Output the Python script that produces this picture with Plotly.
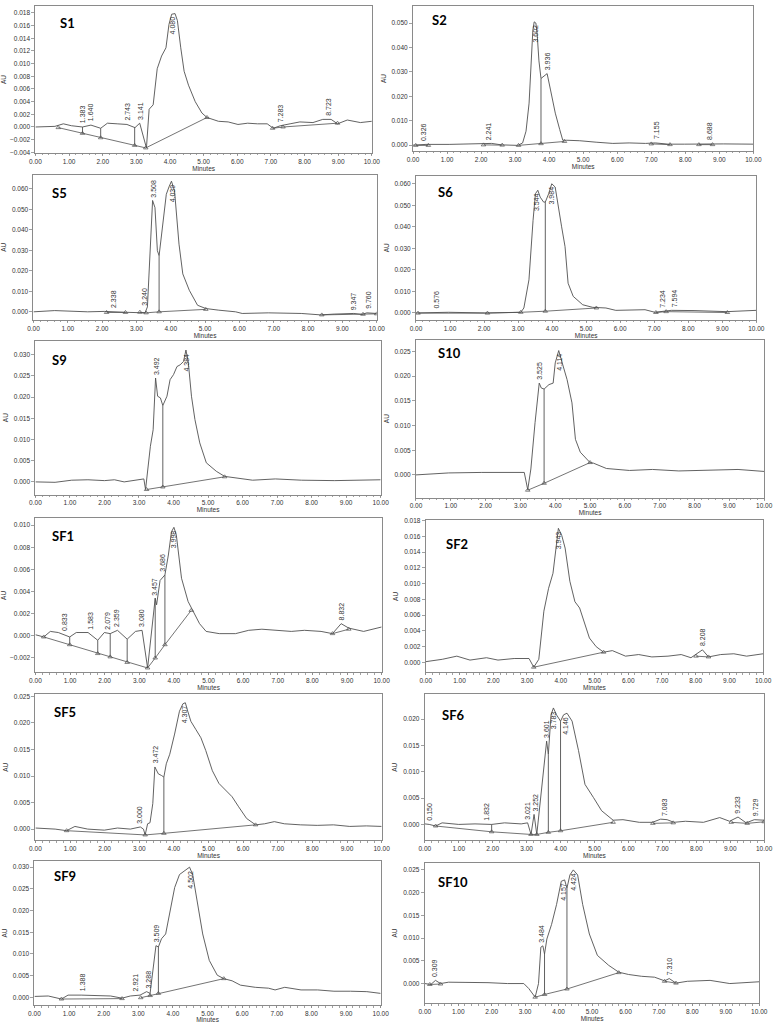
import numpy as np
import plotly.graph_objects as go

W, H = 781, 1023

PANEL_NAMES = ["S1", "S2", "S5", "S6", "S9", "S10", "SF1", "SF2", "SF5", "SF6", "SF9", "SF10"]
Y_RANGES = [[-0.0041, 0.0191], [-0.0024, 0.0570], [-0.0039, 0.0668], [-0.0032, 0.0637],
            [-0.0030, 0.0333], [-0.0046, 0.0274], [-0.0033, 0.0106], [-0.00126, 0.0180],
            [-0.0021, 0.0254], [-0.0030, 0.0247], [-0.0018, 0.0314], [-0.0043, 0.0265]]
Y_DTICK = [0.002, 0.010, 0.010, 0.010, 0.005, 0.005, 0.002, 0.002, 0.005, 0.005, 0.005, 0.005]
X_TICKS = [0, 1, 2, 3, 4, 5, 6, 7, 8, 9, 10]

# ---------------- data (minutes, AU) ----------------
S1_t = [0, 0.58, 0.83, 1.07, 1.40, 1.65, 1.94, 2.14, 2.43, 2.72, 2.96, 3.10, 3.30, 3.38, 3.50, 3.62, 3.75, 3.88, 3.97, 4.05, 4.15, 4.22, 4.32, 4.42, 4.55, 4.75, 4.95, 5.10, 5.44, 5.73, 6.02, 6.31, 6.60, 6.89, 7.07, 7.28, 7.57, 7.86, 8.25, 8.54, 8.79, 8.98, 9.27, 9.66, 10.0]
S1_au = [0.0000, 0.0001, 0.0005, 0.0002, 0.0000, 0.0003, -0.0002, 0.0006, 0.0005, 0.0004, -0.0001, 0.0006, -0.0033, 0.0028, 0.0035, 0.0092, 0.0112, 0.0125, 0.0162, 0.0178, 0.0179, 0.0168, 0.0125, 0.0088, 0.0066, 0.0040, 0.0022, 0.0015, 0.0009, 0.0008, 0.0004, 0.0006, 0.0005, 0.0005, -0.0002, 0.0002, 0.0005, 0.0008, 0.0007, 0.0012, 0.0012, 0.0005, 0.0011, 0.0007, 0.0009]
S1_base_t = [0.68, 1.40, 1.94, 2.95, 3.28, 5.10, None, 7.05, 7.36, 8.98]
S1_base_au = [-0.0001, -0.0010, -0.0017, -0.0029, -0.0033, 0.0015, None, -0.0002, 0.0000, 0.0006]
S1_drop_t = [1.40, 1.94, 2.95]
S1_peaks = ["1.383", "1.640", "2.743", "3.141", "4.080", "7.283", "8.723"]

S2_t = [0, 0.38, 1.06, 1.63, 2.02, 2.31, 2.60, 3.08, 3.22, 3.32, 3.41, 3.47, 3.52, 3.56, 3.61, 3.65, 3.70, 3.76, 3.85, 3.94, 4.04, 4.18, 4.31, 4.40, 4.52, 4.90, 5.38, 5.87, 6.35, 6.83, 7.12, 7.50, 7.98, 8.56, 8.70, 9.13, 10.0]
S2_au = [0.0000, 0.0003, 0.0003, 0.0005, 0.0005, 0.0007, 0.0001, -0.0001, 0.0009, 0.0057, 0.0172, 0.0330, 0.0470, 0.0505, 0.0500, 0.0450, 0.0345, 0.0273, 0.0282, 0.0293, 0.0226, 0.0131, 0.0064, 0.0020, 0.0020, 0.0018, 0.0012, 0.0007, 0.0009, 0.0007, 0.0009, 0.0004, 0.0004, 0.0005, 0.0006, 0.0005, 0.0004]
S2_base_t = [0.08, 0.45, None, 2.07, 2.62, None, 3.10, 3.76, 4.45, None, 7.00, 7.55, None, 8.40, 8.80]
S2_base_au = [-0.0001, -0.0001, None, 0.0001, 0.0000, None, -0.0001, 0.0006, 0.0015, None, 0.0005, 0.0002, None, 0.0002, 0.0002]
S2_drop_t = [3.76]
S2_peaks = ["0.326", "2.241", "3.602", "3.936", "7.155", "8.688"]

S5_t = [0, 0.62, 1.58, 2.06, 2.63, 3.11, 3.25, 3.32, 3.40, 3.47, 3.54, 3.61, 3.66, 3.76, 3.87, 3.95, 4.02, 4.11, 4.24, 4.35, 4.54, 4.78, 5.02, 5.40, 5.89, 6.08, 6.84, 7.80, 8.37, 8.76, 9.33, 9.57, 9.71, 10.0]
S5_au = [0.0000, 0.0006, 0.0000, 0.0002, -0.0002, -0.0002, -0.0005, 0.0024, 0.0280, 0.0543, 0.0508, 0.0298, 0.0274, 0.0410, 0.0573, 0.0610, 0.0637, 0.0589, 0.0330, 0.0185, 0.0105, 0.0032, 0.0016, 0.0008, 0.0000, -0.0008, -0.0005, -0.0008, -0.0015, -0.0011, -0.0008, -0.0013, -0.0005, -0.0008]
S5_base_t = [2.13, 2.68, None, 3.10, 3.28, 3.66, 5.02, None, 8.40, 9.60, 10.0]
S5_base_au = [-0.0003, -0.0003, None, -0.0002, -0.0005, 0.0000, 0.0012, None, -0.0015, -0.0012, -0.0010]
S5_drop_t = [3.66]
S5_peaks = ["2.338", "3.240", "3.508", "4.039", "9.347", "9.760"]

S6_t = [0, 0.96, 2.02, 2.88, 3.08, 3.17, 3.32, 3.44, 3.51, 3.58, 3.65, 3.75, 3.80, 3.90, 3.99, 4.09, 4.18, 4.28, 4.38, 4.47, 4.62, 4.90, 5.19, 5.58, 5.87, 6.35, 6.73, 7.02, 7.26, 7.50, 8.17, 9.13, 10.0]
S6_au = [0.0000, 0.0003, 0.0000, 0.0003, 0.0003, 0.0023, 0.0154, 0.0430, 0.0554, 0.0570, 0.0538, 0.0515, 0.0515, 0.0554, 0.0600, 0.0585, 0.0490, 0.0400, 0.0308, 0.0138, 0.0077, 0.0038, 0.0026, 0.0023, 0.0012, 0.0012, 0.0015, 0.0003, 0.0008, 0.0012, 0.0011, 0.0006, 0.0012]
S6_base_t = [0.06, 2.10, 3.08, 3.80, 5.30, None, 7.05, 7.35, 9.15]
S6_base_au = [-0.0001, -0.0001, 0.0003, 0.0008, 0.0023, None, 0.0002, 0.0006, 0.0002]
S6_drop_t = [3.80]
S6_peaks = ["0.576", "3.544", "3.984", "7.234", "7.594"]

S9_t = [0, 0.57, 1.05, 1.52, 2.00, 2.29, 2.57, 2.95, 3.14, 3.19, 3.33, 3.41, 3.48, 3.54, 3.62, 3.69, 3.81, 3.90, 4.00, 4.10, 4.19, 4.29, 4.36, 4.43, 4.52, 4.62, 4.76, 4.95, 5.24, 5.48, 5.81, 6.29, 6.95, 7.71, 8.67, 10.0]
S9_au = [0.0000, -0.0001, 0.0004, 0.0005, 0.0003, 0.0005, 0.0000, 0.0005, 0.0007, -0.0018, 0.0084, 0.0123, 0.0245, 0.0202, 0.0198, 0.0180, 0.0202, 0.0241, 0.0253, 0.0272, 0.0276, 0.0284, 0.0311, 0.0280, 0.0202, 0.0147, 0.0092, 0.0045, 0.0025, 0.0013, 0.0009, 0.0004, 0.0007, 0.0004, 0.0003, 0.0005]
S9_base_t = [3.22, 3.69, 5.48]
S9_base_au = [-0.0018, -0.0012, 0.0012]
S9_drop_t = [3.69]
S9_peaks = ["3.492", "4.384"]

S10_t = [0, 0.94, 1.89, 2.83, 3.11, 3.21, 3.30, 3.42, 3.54, 3.60, 3.68, 3.82, 3.94, 4.00, 4.10, 4.20, 4.34, 4.48, 4.58, 4.72, 5.00, 5.09, 5.47, 6.13, 6.79, 7.55, 8.49, 9.25, 10.0]
S10_au = [0.0000, 0.0004, 0.0005, 0.0005, 0.0005, -0.0030, 0.0012, 0.0106, 0.0186, 0.0176, 0.0174, 0.0183, 0.0186, 0.0227, 0.0252, 0.0227, 0.0193, 0.0146, 0.0072, 0.0046, 0.0025, 0.0024, 0.0013, 0.0009, 0.0011, 0.0008, 0.0009, 0.0011, 0.0007]
S10_base_t = [3.21, 3.68, 5.00]
S10_base_au = [-0.0031, -0.0017, 0.0025]
S10_drop_t = [3.68]
S10_peaks = ["3.525", "4.114"]

SF1_t = [0, 0.24, 0.43, 0.66, 0.99, 1.18, 1.52, 1.80, 1.99, 2.16, 2.37, 2.65, 2.89, 3.08, 3.24, 3.36, 3.46, 3.50, 3.60, 3.74, 3.84, 3.93, 4.00, 4.07, 4.22, 4.41, 4.55, 4.74, 4.93, 5.31, 5.78, 6.16, 6.54, 6.92, 7.39, 7.77, 8.25, 8.58, 8.83, 9.05, 9.48, 10.0]
SF1_au = [0.0001, -0.0001, 0.0004, 0.0003, -0.0001, 0.0003, 0.0003, -0.0004, 0.0003, 0.0002, 0.0005, -0.0003, 0.0004, 0.0005, -0.0029, 0.0004, 0.0034, 0.0028, 0.0050, 0.0055, 0.0073, 0.0094, 0.0098, 0.0091, 0.0052, 0.0031, 0.0022, 0.0011, 0.0004, 0.0002, 0.0002, 0.0005, 0.0006, 0.0005, 0.0004, 0.0005, 0.0004, 0.0002, 0.0011, 0.0007, 0.0004, 0.0008]
SF1_base_t = [0.24, 0.99, 1.80, 2.16, 2.65, 3.24, 3.46, 3.74, 4.50, None, 8.58, 9.05]
SF1_base_au = [-0.0001, -0.0008, -0.0016, -0.0019, -0.0024, -0.0029, -0.0020, -0.0008, 0.0023, None, 0.0002, 0.0006]
SF1_drop_t = [0.99, 1.80, 2.16, 2.65, 3.46, 3.74]
SF1_peaks = ["0.833", "1.583", "2.079", "2.359", "3.080", "3.457", "3.686", "3.998", "8.832"]

SF2_t = [0, 0.49, 0.92, 1.31, 1.80, 2.14, 2.62, 3.06, 3.20, 3.35, 3.50, 3.64, 3.77, 3.86, 3.93, 4.03, 4.13, 4.27, 4.42, 4.56, 4.71, 4.85, 5.05, 5.27, 5.53, 5.73, 5.92, 6.31, 6.70, 7.18, 7.57, 7.86, 8.01, 8.20, 8.38, 8.74, 9.13, 9.51, 10.0]
SF2_au = [0.0001, 0.0004, 0.0008, 0.0003, 0.0006, 0.0003, 0.0005, 0.0005, -0.0006, 0.0004, 0.0065, 0.0094, 0.0113, 0.0149, 0.0170, 0.0161, 0.0145, 0.0103, 0.0077, 0.0069, 0.0048, 0.0031, 0.0020, 0.0013, 0.0015, 0.0011, 0.0008, 0.0010, 0.0007, 0.0008, 0.0010, 0.0006, 0.0010, 0.0016, 0.0007, 0.0010, 0.0011, 0.0008, 0.0011]
SF2_base_t = [3.20, 5.27, None, 8.01, 8.38]
SF2_base_au = [-0.0006, 0.0013, None, 0.0008, 0.0007]
SF2_drop_t = []
SF2_peaks = ["3.943", "8.208"]

SF5_t = [0, 0.57, 0.90, 1.14, 1.51, 1.99, 2.37, 2.74, 3.03, 3.12, 3.17, 3.24, 3.31, 3.39, 3.45, 3.55, 3.64, 3.71, 3.78, 3.88, 4.02, 4.16, 4.26, 4.33, 4.40, 4.49, 4.63, 4.78, 4.92, 5.11, 5.30, 5.49, 5.68, 5.87, 6.10, 6.36, 6.62, 6.90, 7.19, 7.66, 8.14, 8.61, 9.08, 9.56, 10.0]
SF5_au = [0.0002, 0.0000, -0.0003, 0.0005, 0.0000, -0.0002, 0.0002, 0.0000, 0.0004, 0.0000, -0.0011, 0.0010, 0.0012, 0.0048, 0.0117, 0.0104, 0.0101, 0.0098, 0.0123, 0.0141, 0.0179, 0.0222, 0.0236, 0.0238, 0.0222, 0.0203, 0.0188, 0.0172, 0.0148, 0.0110, 0.0086, 0.0073, 0.0061, 0.0042, 0.0020, 0.0008, 0.0010, 0.0014, 0.0010, 0.0008, 0.0007, 0.0008, 0.0005, 0.0006, 0.0005]
SF5_base_t = [0.90, 3.17, 3.71, 6.36]
SF5_base_au = [-0.0003, -0.0011, -0.0008, 0.0008]
SF5_drop_t = [3.71]
SF5_peaks = ["3.000", "3.472", "4.307"]

SF6_t = [0, 0.13, 0.32, 0.51, 1.00, 1.48, 1.97, 2.35, 2.84, 3.03, 3.13, 3.22, 3.30, 3.40, 3.51, 3.59, 3.64, 3.72, 3.79, 3.88, 4.00, 4.09, 4.19, 4.34, 4.53, 4.72, 4.97, 5.21, 5.55, 5.84, 6.32, 6.71, 6.95, 7.14, 7.34, 7.68, 8.21, 8.69, 8.98, 9.23, 9.47, 9.71, 10.0]
SF6_au = [0.0001, 0.0000, -0.0003, 0.0003, 0.0000, 0.0001, 0.0000, 0.0003, 0.0001, 0.0003, -0.0019, 0.0019, -0.0019, 0.0045, 0.0114, 0.0158, 0.0133, 0.0208, 0.0221, 0.0208, 0.0196, 0.0208, 0.0211, 0.0196, 0.0140, 0.0076, 0.0051, 0.0026, 0.0008, 0.0009, 0.0004, 0.0004, 0.0010, 0.0009, 0.0004, 0.0006, 0.0004, 0.0013, 0.0006, 0.0014, 0.0003, 0.0009, 0.0008]
SF6_base_t = [0.32, 1.97, 3.13, 3.30, 3.64, 4.00, 5.55, None, 6.72, 7.32, None, 9.03, 9.50, 10.0]
SF6_base_au = [-0.0003, -0.0014, -0.0019, -0.0019, -0.0015, -0.0012, 0.0004, None, 0.0002, 0.0003, None, 0.0004, 0.0002, 0.0005]
SF6_drop_t = [1.97, 3.64, 4.00]
SF6_peaks = ["0.150", "1.832", "3.021", "3.252", "3.601", "3.783", "4.146", "7.083", "9.233", "9.729"]

SF9_t = [0, 0.40, 0.78, 0.97, 1.35, 1.82, 2.20, 2.53, 2.77, 3.05, 3.24, 3.34, 3.43, 3.51, 3.58, 3.67, 3.79, 3.91, 4.05, 4.19, 4.34, 4.48, 4.57, 4.72, 4.86, 5.05, 5.28, 5.47, 5.71, 5.95, 6.38, 6.76, 6.95, 7.23, 7.70, 8.18, 8.65, 9.13, 9.60, 10.0]
SF9_au = [0.0002, 0.0003, -0.0004, 0.0005, 0.0005, 0.0003, 0.0003, -0.0002, 0.0003, 0.0005, 0.0013, 0.0009, 0.0066, 0.0119, 0.0116, 0.0135, 0.0146, 0.0192, 0.0253, 0.0283, 0.0291, 0.0300, 0.0283, 0.0215, 0.0146, 0.0085, 0.0051, 0.0043, 0.0038, 0.0028, 0.0023, 0.0021, 0.0017, 0.0023, 0.0017, 0.0017, 0.0014, 0.0014, 0.0013, 0.0009]
SF9_base_t = [0.78, 2.53, None, 3.07, 3.34, 3.58, 5.47]
SF9_base_au = [-0.0004, -0.0003, None, -0.0001, 0.0004, 0.0009, 0.0043]
SF9_drop_t = [3.34, 3.58]
SF9_peaks = ["1.388", "2.921", "3.288", "3.509", "4.502"]

SF10_t = [0, 0.18, 0.32, 0.47, 0.71, 1.40, 1.89, 2.47, 2.96, 3.11, 3.30, 3.40, 3.47, 3.53, 3.58, 3.65, 3.79, 3.94, 4.08, 4.18, 4.25, 4.34, 4.44, 4.57, 4.72, 4.92, 5.16, 5.50, 5.80, 6.09, 6.48, 6.87, 7.17, 7.31, 7.51, 7.85, 8.53, 9.12, 10.0]
SF10_au = [0.0000, -0.0002, 0.0007, 0.0000, 0.0003, 0.0003, 0.0002, 0.0000, 0.0000, -0.0011, -0.0030, 0.0000, 0.0080, 0.0083, 0.0065, 0.0098, 0.0130, 0.0174, 0.0225, 0.0228, 0.0210, 0.0239, 0.0250, 0.0239, 0.0174, 0.0109, 0.0062, 0.0040, 0.0025, 0.0020, 0.0016, 0.0014, 0.0006, 0.0011, 0.0001, 0.0005, 0.0007, 0.0000, 0.0004]
SF10_base_t = [0.15, 0.47, None, 3.30, 3.58, 4.25, 5.80, None, 7.17, 7.51]
SF10_base_au = [-0.0002, -0.0001, None, -0.0030, -0.0024, -0.0012, 0.0024, None, 0.0005, 0.0001]
SF10_drop_t = [3.58, 4.25]
SF10_peaks = ["0.309", "3.484", "4.157", "4.424", "7.310"]

# ---------------- layout geometry (pixels: left, right, top, bottom) ----------------
BOXES = [(30, 373, 2, 150), (415, 762, 2, 148), (28, 378, 172, 318), (418, 765, 173, 318),
         (30, 382, 339, 494), (418, 773, 338, 497), (30, 383, 518, 673), (428, 772, 520, 673),
         (30, 383, 695, 842), (427, 773, 695, 842), (29, 382, 863, 1008), (427, 768, 865, 1006)]
TITLE_POS = [(53, 19), (432, 16), (45, 190), (438, 189), (45, 358), (438, 351),
             (45, 536), (447, 544), (47, 713), (443, 716), (47, 878), (438, 884)]

g = globals()
panels = []
for name in PANEL_NAMES:
    panels.append(dict(
        t=g[name + "_t"], au=g[name + "_au"],
        bt=g[name + "_base_t"], bau=g[name + "_base_au"],
        drops=g[name + "_drop_t"], peaks=g[name + "_peaks"]))

LINE = "#505050"
TXT = "#333333"
AX = "#8a8a8a"


def base_at(bt, bv, x):
    seg_t, seg_v = [], []
    segs = []
    for a, b in zip(bt + [None], bv + [None]):
        if a is None:
            if seg_t:
                segs.append((seg_t, seg_v))
            seg_t, seg_v = [], []
        else:
            seg_t.append(a)
            seg_v.append(b)
    for st, sv in segs:
        if st[0] - 1e-9 <= x <= st[-1] + 1e-9:
            return float(np.interp(x, st, sv))
    return None


fig = go.Figure()
annotations = []
layout = {}

for i, (name, p) in enumerate(zip(PANEL_NAMES, panels)):
    assert len(p["t"]) == len(p["au"]), name
    sfx = "" if i == 0 else str(i + 1)
    xa, ya = "x" + sfx, "y" + sfx
    L, R, T, B = BOXES[i]
    yr = Y_RANGES[i]
    ppu = (B - T) / (yr[1] - yr[0])  # pixels per AU

    layout["xaxis" + sfx] = dict(
        domain=[L / W, R / W], anchor=ya, range=[0, 10], tickvals=X_TICKS,
        tickformat=".2f", ticks="outside", ticklen=2, tickwidth=0.8, tickcolor=AX,
        minor=dict(dtick=0.2, ticks="outside", ticklen=1.5, tickcolor=AX, showgrid=False),
        showline=True, linecolor=AX, linewidth=1, mirror=True,
        showgrid=False, zeroline=False,
        tickfont=dict(size=6.5, color=TXT, family="Liberation Sans"),
        title=dict(text="Minutes", font=dict(size=6.5, color=TXT, family="Liberation Sans"), standoff=0),
    )
    layout["yaxis" + sfx] = dict(
        domain=[1 - B / H, 1 - T / H], anchor=xa, range=yr, dtick=Y_DTICK[i], tick0=0,
        tickformat=".3f", ticks="outside", ticklen=3, tickwidth=0.8, tickcolor=AX,
        showline=True, linecolor=AX, linewidth=1, mirror=True,
        showgrid=False, zeroline=False,
        tickfont=dict(size=6.5, color=TXT, family="Liberation Sans"),
        title=dict(text="AU", font=dict(size=6.5, color=TXT, family="Liberation Sans"), standoff=4),
    )

    # chromatogram
    fig.add_trace(go.Scatter(x=p["t"], y=p["au"], mode="lines", xaxis=xa, yaxis=ya,
                             line=dict(color=LINE, width=0.9), showlegend=False, hoverinfo="skip"))
    # integration baselines
    fig.add_trace(go.Scatter(x=p["bt"], y=p["bau"], mode="lines+markers", xaxis=xa, yaxis=ya,
                             line=dict(color=LINE, width=0.8), connectgaps=False,
                             marker=dict(symbol="triangle-up-open", size=4, color=LINE, line=dict(width=0.7)),
                             showlegend=False, hoverinfo="skip"))
    # drop lines
    dx, dy = [], []
    for d in p["drops"]:
        top = float(np.interp(d, p["t"], p["au"]))
        bot = base_at(p["bt"], p["bau"], d)
        if bot is None:
            continue
        dx += [d, d, None]
        dy += [top, bot, None]
    if dx:
        fig.add_trace(go.Scatter(x=dx, y=dy, mode="lines", xaxis=xa, yaxis=ya,
                                 line=dict(color=LINE, width=0.9), showlegend=False, hoverinfo="skip"))
    # peak retention-time labels
    for lab in p["peaks"]:
        rt = float(lab)
        grid = np.linspace(rt - 0.05, rt + 0.05, 11)
        apex = float(np.max(np.interp(grid, p["t"], p["au"])))
        room = (yr[1] - apex) * ppu
        if room < 20:
            yv, yanc = apex - 1.0 / ppu, "top"
        else:
            yv, yanc = apex + 1.5 / ppu, "bottom"
        annotations.append(dict(x=rt, y=yv, xref=xa, yref=ya, text=lab, showarrow=False,
                                textangle=-90, xanchor="center", yanchor=yanc,
                                font=dict(size=7, color=TXT, family="Liberation Sans")))
    # panel title
    tx, ty = TITLE_POS[i]
    annotations.append(dict(x=tx / W, y=1 - ty / H, xref="paper", yref="paper", text="<b>%s</b>" % name,
                            showarrow=False, xanchor="left", yanchor="middle",
                            font=dict(size=13, color="#000000", family="Lato")))

fig.update_layout(
    width=W, height=H, margin=dict(l=0, r=0, t=0, b=0),
    paper_bgcolor="white", plot_bgcolor="white", hovermode=False,
    annotations=annotations, showlegend=False, **layout)

fig.write_html("out.html", config={"responsive": False, "displayModeBar": False, "staticPlot": True},
               post_script="document.body.style.margin='0';document.body.style.overflow='hidden';")
